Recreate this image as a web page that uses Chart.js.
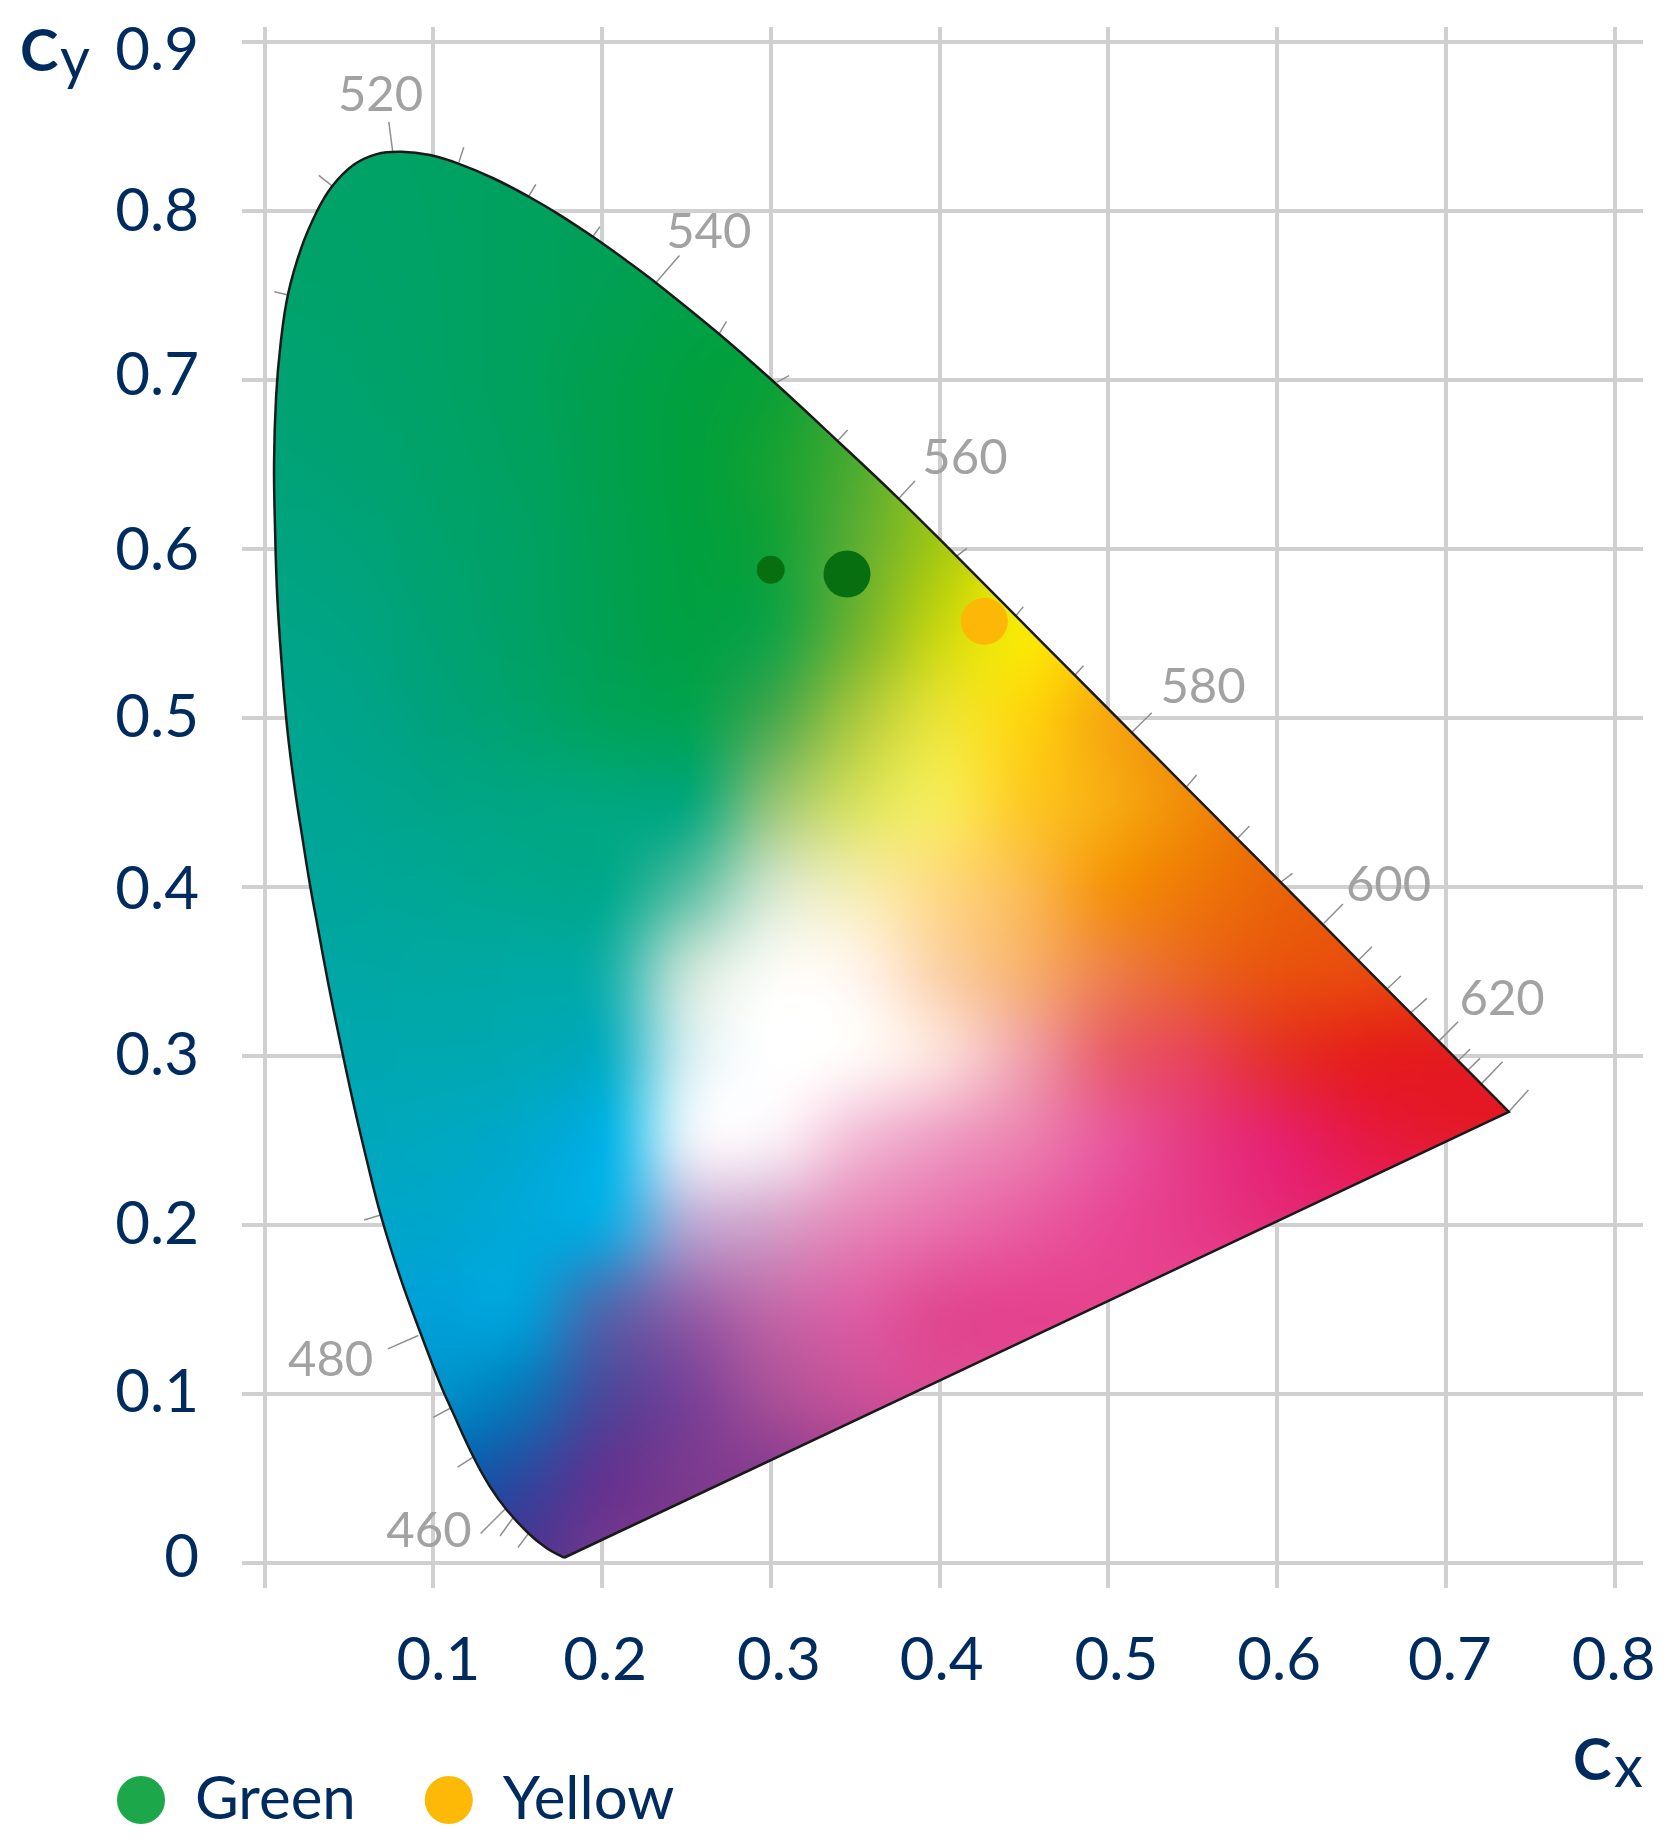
<!DOCTYPE html>
<html>
<head>
<meta charset="utf-8">
<title>Chromaticity</title>
<script src="https://cdn.jsdelivr.net/npm/chart.js@4/dist/chart.umd.min.js"></script>
<style>
    html, body { margin: 0; padding: 0; background: #fff; }
    #wrap { width: 1680px; height: 1846px; }
</style>
</head>
<body>
<div id="wrap"><canvas id="cie" width="1680" height="1846"></canvas></div>
<script>
const xTicks = [0, 0.1, 0.2, 0.3, 0.4, 0.5, 0.6, 0.7, 0.8];
const xTickLabels = ['', '0.1', '0.2', '0.3', '0.4', '0.5', '0.6', '0.7', '0.8'];
const yTicks = [0, 0.1, 0.2, 0.3, 0.4, 0.5, 0.6, 0.7, 0.8, 0.9];
const yTickLabels = ['0', '0.1', '0.2', '0.3', '0.4', '0.5', '0.6', '0.7', '0.8', '0.9'];

// outline, violet corner -> round the horseshoe -> red corner -> back to violet
// (corners are doubled so the curve stays sharp there)
const locusX = [0.1774, 0.1774, 0.1672, 0.1563, 0.1435, 0.1336, 0.1237, 0.1109, 0.1039, 0.0917, 0.0802, 0.0688, 0.0605, 0.0526, 0.0439, 0.0376, 0.0318, 0.0269, 0.0226, 0.0180, 0.0135, 0.0101, 0.0075, 0.0062, 0.0056, 0.0068, 0.0095, 0.0140, 0.0220, 0.0309, 0.0398, 0.0526, 0.0664, 0.0812, 0.0980, 0.1152, 0.1355, 0.1569, 0.1750, 0.1952, 0.2146, 0.2313, 0.2679, 0.3005, 0.3400, 0.3755, 0.4091, 0.4447, 0.4802, 0.5142, 0.5464, 0.5766, 0.6025, 0.6277, 0.6479, 0.6656, 0.6792, 0.6961, 0.7077, 0.7131, 0.7213, 0.7373, 0.7373, 0.1774, 0.1774];
const locusY = [0.0031, 0.0031, 0.0087, 0.0176, 0.0314, 0.0451, 0.0629, 0.0905, 0.1063, 0.1379, 0.1694, 0.2059, 0.2385, 0.2720, 0.3124, 0.3435, 0.3746, 0.4012, 0.4278, 0.4574, 0.4929, 0.5324, 0.5718, 0.6112, 0.6507, 0.6901, 0.7217, 0.7513, 0.7789, 0.7996, 0.8144, 0.8272, 0.8337, 0.8351, 0.8331, 0.8279, 0.8194, 0.8083, 0.7976, 0.7843, 0.7705, 0.7580, 0.7284, 0.7000, 0.6635, 0.6300, 0.5967, 0.5609, 0.5252, 0.4911, 0.4587, 0.4284, 0.4024, 0.3771, 0.3568, 0.3390, 0.3254, 0.3084, 0.2967, 0.2913, 0.2831, 0.2670, 0.2670, 0.0031, 0.0031];

// wavelength tick marks, start on the curve and end outside it
const nmStartX = [0.1561, 0.1480, 0.1425, 0.1238, 0.1102, 0.0911, 0.0688, 0.0140, 0.0405, 0.0759, 0.1151, 0.1566, 0.1947, 0.2318, 0.2667, 0.3036, 0.3400, 0.3759, 0.4091, 0.4447, 0.4802, 0.5142, 0.5464, 0.5766, 0.6025, 0.6277, 0.6479, 0.6656, 0.6792, 0.6961, 0.7077, 0.7131, 0.7213, 0.7373];
const nmStartY = [0.0171, 0.0278, 0.0320, 0.0628, 0.0917, 0.1346, 0.2059, 0.7503, 0.8144, 0.8351, 0.8288, 0.8089, 0.7852, 0.7576, 0.7228, 0.6988, 0.6645, 0.6300, 0.5951, 0.5599, 0.5254, 0.4919, 0.4594, 0.4288, 0.4031, 0.3785, 0.3564, 0.3401, 0.3256, 0.3091, 0.2976, 0.2917, 0.2838, 0.2670];
const nmEndX = [0.1501, 0.1395, 0.1280, 0.1144, 0.0999, 0.0730, 0.0589, 0.0058, 0.0321, 0.0736, 0.1180, 0.1607, 0.1987, 0.2458, 0.2737, 0.3108, 0.3455, 0.3854, 0.4161, 0.4496, 0.4852, 0.5257, 0.5523, 0.5836, 0.6091, 0.6390, 0.6562, 0.6733, 0.6887, 0.7072, 0.7143, 0.7202, 0.7336, 0.7489];
const nmEndY = [0.0092, 0.0160, 0.0175, 0.0567, 0.0862, 0.1267, 0.2030, 0.7522, 0.8211, 0.8528, 0.8377, 0.8158, 0.7907, 0.7737, 0.7347, 0.7026, 0.6704, 0.6402, 0.6004, 0.5659, 0.5309, 0.5031, 0.4663, 0.4361, 0.4081, 0.3899, 0.3647, 0.3473, 0.3341, 0.3203, 0.3040, 0.2986, 0.2966, 0.2799];

const nmLabels = ['460', '480', '520', '540', '560', '580', '600', '620'];
const nmLabelX = [0.0974, 0.0391, 0.0687, 0.2632, 0.4150, 0.5561, 0.6660, 0.7333];
const nmLabelY = [0.0189, 0.1201, 0.8686, 0.7876, 0.6537, 0.5180, 0.4012, 0.3337];

const greenX = [0.2999, 0.3451];
const greenY = [0.5877, 0.5852];
const yellowX = [0.4265];
const yellowY = [0.5572];

const legendNames = ['Green', 'Yellow'];
const legendColors = ['#1ca84a', '#fdb905'];

// colour of the diagram, sampled every 0.05 in x (0 to 0.75) and y (0.85 down to 0)
const fieldRows = [
    '00a265 00a265 00a263 00a15d 00a057 00a052 00a04e 00a04c 00a04c 00a04c 00a04c 00a04c 00a04c 00a04c 00a04c 00a04c',
    '00a268 00a268 00a264 00a15e 00a058 00a052 00a04c 00a048 00a048 00a048 00a048 00a048 00a048 00a048 00a048 00a048',
    '00a26c 00a26a 00a265 00a15d 00a054 00a049 02a040 10a23a 10a23a 10a23a 10a23a 10a23a 10a23a 10a23a 10a23a 10a23a',
    '00a272 00a26d 00a266 00a15c 00a04e 00a040 0aa038 30a635 30a635 30a635 30a635 30a635 30a635 30a635 30a635 30a635',
    '00a278 00a272 00a269 00a15f 00a04f 00a03e 16a233 4cab30 8ac020 8ac020 8ac020 8ac020 8ac020 8ac020 8ac020 8ac020',
    '00a380 00a37a 00a26e 00a164 00a052 00a040 12a138 5eae32 a6c912 e8e208 e8e208 e8e208 e8e208 e8e208 e8e208 e8e208',
    '00a487 00a382 00a274 00a166 00a054 00a044 15a346 72b42f cad712 f8e806 f8c808 f8c808 f8c808 f8c808 f8c808 f8c808',
    '00a58e 00a48a 00a27c 00a36e 00a35c 02a352 48a94e a9c83f e9e335 fdd40f f6a80e f09008 f09008 f09008 f09008 f09008',
    '00a596 00a592 00a588 00a682 00a77e 08a87c 90c478 d5e060 f6ea58 fcc925 f7ab12 f08a08 ea7008 ea7008 ea7008 ea7008',
    '00a69c 00a699 00a794 00a88e 00a98c 58bea2 cfe4c8 f3ecb0 fdd980 fbbb50 f5930e ee7808 e96408 e85a08 e85a08 e85a08',
    '00a7a6 00a7a4 00a8a2 00a9a4 14afa9 c0e2d6 f8faf4 fff4ea fbd2a8 f7b070 ee8048 ea6424 e95210 e84a0e e6400e e6400e',
    '00a7b0 00a7b0 00a8b0 00a9b4 08aec4 d0ecf0 ffffff fff8f6 fbdcd8 f0a0a8 e9606c e84458 e5302c e5201c e31c1e e31c1e',
    '00a7bc 00a7bc 00a8c0 00a8cc 00b2e4 e0eef8 f8eef5 f2bdd6 ee9cc2 ec80ae e8589b e63a80 e6226c e61a46 e41a30 e41a2a',
    '00a6c4 00a6c8 00a6cc 00a8d8 10aae0 b0a8d4 d4a0c8 e586b8 e870ac e85ca0 e84896 e63a88 e52c78 e5266a e5266a e5266a',
    '00a0d0 00a0d4 00a0d8 00a0d8 4a6ab0 9060a8 c068a8 dc5ea4 e04a92 e5438f e5448e e5448e e5448e e5448e e5448e e5448e',
    '0090c8 0090c8 0090c8 0a78ba 4a4a9c 784298 a85098 c85098 d84a94 d84a94 d84a94 d84a94 d84a94 d84a94 d84a94 d84a94',
    '0060b0 0060b0 0060b0 2a4aa0 603490 7a3a8e 8a3c90 a0408f a0408f a0408f a0408f a0408f a0408f a0408f a0408f a0408f',
    '2a4aa0 2a4aa0 3a3a98 4a3390 70388e 80388e 8a3c90 a0408f a0408f a0408f a0408f a0408f a0408f a0408f a0408f a0408f'
];

const navy = '#002b5e';
const tickFont = { family: 'Lato', size: 60 };

// tick labels in the original don't sit exactly on their gridlines
const yLabelNudge = { '0.9': 9, '0.8': 1, '0.7': -4, '0.6': 2, '0.5': 0, '0.4': 3, '0.3': 0, '0.2': 0, '0.1': -1, '0': -5 };
const xLabelNudge = { '0.1': 5, '0.2': 3, '0.3': 8, '0.4': 2, '0.5': 8, '0.6': 2, '0.7': 4, '0.8': -1 };

function zip(xs, ys) {
    return xs.map((x, i) => ({ x, y: ys[i] }));
}

function nmSegments() {
    const pts = [];
    nmStartX.forEach((x, i) => {
        pts.push({ x, y: nmStartY[i] }, { x: nmEndX[i], y: nmEndY[i] }, { x: NaN, y: NaN });
    });
    return pts;
}

function catmull(a, b, c, d, t) {
    return b + 0.5 * t * (c - a + t * (2 * a - 5 * b + 4 * c - d + t * (3 * (b - c) + d - a)));
}

// paints the colour field into a canvas the size of the chart, used as the fill pattern
function buildField(chart) {
    const grid = fieldRows.map(r => r.split(' ').map(h => [
        parseInt(h.slice(0, 2), 16), parseInt(h.slice(2, 4), 16), parseInt(h.slice(4, 6), 16)
    ]));
    const rows = grid.length, cols = grid[0].length;
    const at = (r, c) => grid[Math.max(0, Math.min(rows - 1, r))][Math.max(0, Math.min(cols - 1, c))];

    const sx = chart.scales.x, sy = chart.scales.y;
    const off = document.createElement('canvas');
    off.width = chart.width;
    off.height = chart.height;
    const octx = off.getContext('2d');
    const img = octx.createImageData(off.width, off.height);

    for (let py = 0; py < off.height; py++) {
        const gy = (0.85 - sy.getValueForPixel(py)) / 0.05;
        const r0 = Math.floor(gy), ty = gy - r0;
        for (let px = 0; px < off.width; px++) {
            const gx = sx.getValueForPixel(px) / 0.05;
            const c0 = Math.floor(gx), tx = gx - c0;
            const i = (py * off.width + px) * 4;
            for (let k = 0; k < 3; k++) {
                const col = [];
                for (let dr = -1; dr <= 2; dr++) {
                    col.push(catmull(at(r0 + dr, c0 - 1)[k], at(r0 + dr, c0)[k], at(r0 + dr, c0 + 1)[k], at(r0 + dr, c0 + 2)[k], tx));
                }
                img.data[i + k] = Math.max(0, Math.min(255, catmull(col[0], col[1], col[2], col[3], ty)));
            }
            img.data[i + 3] = 255;
        }
    }
    octx.putImageData(img, 0, 0);
    return octx.createPattern(off, 'no-repeat');
}

const fieldPlugin = {
    id: 'field',
    afterLayout(chart) {
        chart.data.datasets[0].backgroundColor = buildField(chart);
        // legend sits a bit higher than the layout puts it
        chart.legend.top -= 6;
    }
};

const labelPlugin = {
    id: 'labels',
    beforeDraw(chart) {
        const move = (scale, nudge, idx) => {
            scale.getLabelItems(chart.chartArea).forEach(item => {
                if (item.moved) return;
                item.options.translation[idx] += nudge[item.label] || 0;
                item.moved = true;
            });
        };
        move(chart.scales.y, yLabelNudge, 1);
        move(chart.scales.x, xLabelNudge, 0);
    },
    afterDatasetsDraw(chart) {
        const { ctx, scales } = chart;
        ctx.save();
        ctx.font = '49px Lato';
        ctx.fillStyle = '#a2a2a2';
        ctx.textAlign = 'center';
        ctx.textBaseline = 'middle';
        nmLabels.forEach((t, i) => {
            ctx.fillText(t, scales.x.getPixelForValue(nmLabelX[i]), scales.y.getPixelForValue(nmLabelY[i]));
        });

        // axis names, bold C + regular letter
        ctx.fillStyle = navy;
        ctx.textAlign = 'left';
        ctx.textBaseline = 'alphabetic';
        ctx.font = 'bold 58px Lato';
        ctx.fillText('C', 20, 71);
        ctx.fillText('C', 1573, 1780);
        ctx.font = '58px Lato';
        ctx.fillText('y', 60, 79);
        ctx.fillText('x', 1614, 1787);
        ctx.restore();
    }
};

new Chart(document.getElementById('cie'), {
    type: 'scatter',
    data: {
        datasets: [
            {
                data: zip(locusX, locusY),
                showLine: true,
                fill: 'shape',
                tension: 0.4,
                borderColor: '#1a1a1a',
                borderWidth: 2.5,
                pointRadius: 0,
                order: 1
            },
            {
                data: nmSegments(),
                showLine: true,
                spanGaps: false,
                borderColor: '#8f8f8f',
                borderWidth: 1.5,
                pointRadius: 0,
                order: 2
            },
            {
                data: zip(greenX, greenY),
                pointRadius: [14, 23.5],
                pointBackgroundColor: '#086f10',
                pointBorderWidth: 0,
                order: 0
            },
            {
                data: zip(yellowX, yellowY),
                pointRadius: 23.5,
                pointBackgroundColor: '#fdb706',
                pointBorderWidth: 0,
                order: 0
            }
        ]
    },
    options: {
        responsive: false,
        animation: false,
        layout: { padding: { left: 48, top: 27, right: 37, bottom: 0 } },
        plugins: {
            tooltip: { enabled: false },
            legend: {
                position: 'bottom',
                align: 'start',
                onClick: null,
                labels: {
                    usePointStyle: true,
                    boxWidth: 48,
                    boxHeight: 34,
                    padding: 69,
                    font: tickFont,
                    color: navy,
                    generateLabels: () => legendNames.map((text, i) => ({
                        text,
                        fillStyle: legendColors[i],
                        strokeStyle: legendColors[i],
                        lineWidth: 0,
                        pointStyle: 'circle',
                        fontColor: navy,
                        hidden: false
                    }))
                }
            }
        },
        scales: {
            x: {
                type: 'linear',
                min: -0.0134,
                max: 0.8168,
                border: { display: false },
                grid: { color: '#d0d0d0', lineWidth: 4, drawTicks: false },
                ticks: {
                    font: tickFont,
                    color: navy,
                    padding: 37,
                    autoSkip: false,
                    maxRotation: 0,
                    callback: (v, i) => xTickLabels[i]
                },
                afterBuildTicks: axis => { axis.ticks = xTicks.map(value => ({ value })); },
                afterFit: axis => {
                    // legend height is 60 * 1.2 + 69 = 141
                    axis.height = 1846 - 1588 - 139;
                    axis.paddingLeft = 0;
                    axis.paddingRight = 0;
                }
            },
            y: {
                type: 'linear',
                min: -0.0148,
                max: 0.9089,
                border: { display: false },
                grid: { color: '#d0d0d0', lineWidth: 4, drawTicks: false },
                ticks: {
                    font: tickFont,
                    color: navy,
                    padding: 43,
                    autoSkip: false,
                    callback: (v, i) => yTickLabels[i]
                },
                afterBuildTicks: axis => { axis.ticks = yTicks.map(value => ({ value })); },
                afterFit: axis => {
                    axis.width = 194;
                    axis.paddingTop = 0;
                    axis.paddingBottom = 0;
                }
            }
        }
    },
    plugins: [fieldPlugin, labelPlugin]
});
</script>
</body>
</html>
